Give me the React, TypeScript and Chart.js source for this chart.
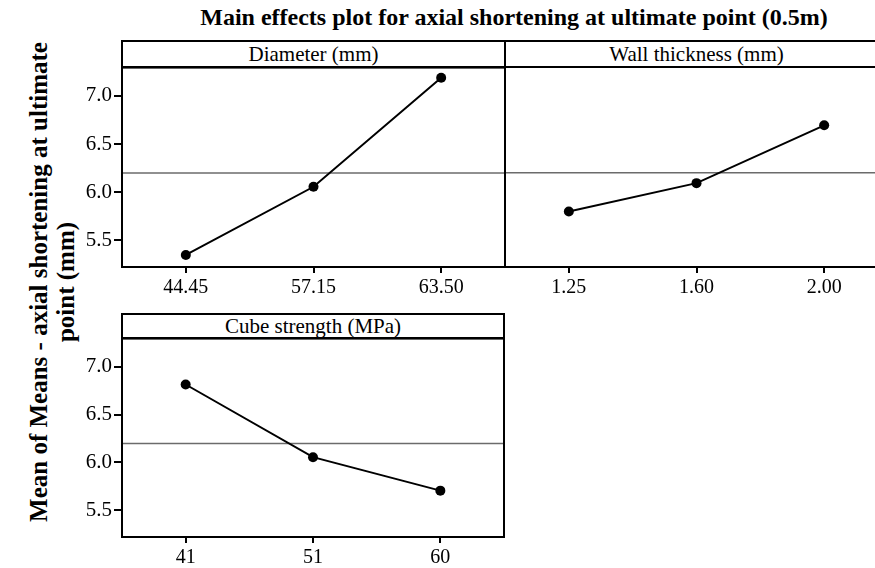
import React, { useEffect, useRef } from "react";
import { Chart, registerables } from "chart.js";

Chart.register(...registerables);

const TITLE = "Main effects plot for axial shortening at ultimate point (0.5m)";
const Y_LABEL_LINES = ["Mean of Means - axial shortening at ultimate", "point (mm)"];

const diameterHeader = "Diameter (mm)";
const diameterLabels = ["44.45", "57.15", "63.50"];
const diameterMeans = [5.345, 6.055, 7.19];

const wallHeader = "Wall thickness (mm)";
const wallLabels = ["1.25", "1.60", "2.00"];
const wallMeans = [5.795, 6.09, 6.69];

const cubeHeader = "Cube strength (MPa)";
const cubeLabels = ["41", "51", "60"];
const cubeMeans = [6.815, 6.055, 5.705];

const yTickValues = [5.5, 6.0, 6.5, 7.0];
const grandMean = 6.197;
const yMin = 5.22;
const yMax = 7.295;

const SERIF = '"Liberation Serif", "Times New Roman", serif';

const framePlugin = {
  id: "frame",
  beforeDatasetsDraw(chart: any) {
    const { ctx, chartArea: a, scales } = chart;
    const y = scales.y.getPixelForValue(grandMean);
    ctx.save();
    ctx.strokeStyle = "#6b6b6b";
    ctx.lineWidth = 1.5;
    ctx.beginPath();
    ctx.moveTo(a.left, y);
    ctx.lineTo(a.right, y);
    ctx.stroke();
    ctx.strokeStyle = "#000";
    ctx.lineWidth = 2;
    ctx.strokeRect(a.left, a.top, a.right - a.left, a.bottom - a.top);
    ctx.restore();
  },
};

type PanelProps = {
  labels: string[];
  values: number[];
  showY: boolean;
  left: number;
  top: number;
  width: number;
  height: number;
};

const PAD_TOP = 14;

function Panel({ labels, values, showY, left, top, width, height }: PanelProps) {
  const ref = useRef<HTMLCanvasElement | null>(null);
  useEffect(() => {
    if (!ref.current) return;
    const chart = new Chart(ref.current, {
      type: "line",
      data: {
        labels,
        datasets: [
          {
            data: values,
            borderColor: "#000",
            backgroundColor: "#000",
            borderWidth: 2,
            pointRadius: 5,
            pointBackgroundColor: "#000",
            pointBorderWidth: 0,
            tension: 0,
          },
        ],
      },
      options: {
        animation: false,
        responsive: false,
        events: [],
        layout: { padding: { left: showY ? 0 : 8, right: 8, top: PAD_TOP, bottom: 0 } },
        plugins: {
          legend: { display: false },
          tooltip: { enabled: false },
          title: { display: false },
        },
        scales: {
          x: {
            type: "category",
            offset: true,
            grid: {
              display: true,
              offset: false,
              drawOnChartArea: false,
              drawTicks: true,
              tickLength: 6,
              color: "#000",
              lineWidth: 2,
            },
            border: { display: false },
            ticks: {
              color: "#000",
              font: { family: SERIF, size: 20 },
              padding: 3,
              maxRotation: 0,
              autoSkip: false,
            },
            afterFit: (s: any) => {
              s.height = 40;
            },
          },
          y: {
            type: "linear",
            display: showY,
            min: yMin,
            max: yMax,
            grid: {
              display: true,
              drawOnChartArea: false,
              drawTicks: true,
              tickLength: 8,
              color: "#000",
              lineWidth: 2,
            },
            border: { display: false },
            ticks: {
              color: "#000",
              font: { family: SERIF, size: 21 },
              padding: 2,
              callback: (v: any) => Number(v).toFixed(1),
            },
            afterBuildTicks: (s: any) => {
              s.ticks = yTickValues.map((v) => ({ value: v }));
            },
            afterFit: (s: any) => {
              s.width = showY ? 62 : 0;
            },
          },
        },
      } as any,
      plugins: [framePlugin],
    });
    return () => chart.destroy();
  }, []);
  return (
    <canvas
      ref={ref}
      width={width}
      height={height}
      style={{ position: "absolute", left, top, width, height }}
    />
  );
}

function Header({ text, left, top, width, height }: { text: string; left: number; top: number; width: number; height: number }) {
  return (
    <div
      style={{
        position: "absolute",
        left,
        top,
        width,
        height,
        boxSizing: "border-box",
        border: "2px solid #000",
        background: "#fff",
        fontFamily: SERIF,
        fontSize: 21,
        lineHeight: `${height - 4}px`,
        textAlign: "center",
        color: "#000",
        whiteSpace: "nowrap",
      }}
    >
      {text}
    </div>
  );
}

export default function App() {
  return (
    <div
      style={{
        position: "absolute",
        left: 0,
        top: 0,
        width: 875,
        height: 568,
        overflow: "hidden",
        background: "#fff",
      }}
    >
      <div
        style={{
          position: "absolute",
          left: 514,
          top: 3,
          transform: "translateX(-50%)",
          whiteSpace: "nowrap",
          fontFamily: SERIF,
          fontWeight: "bold",
          fontSize: 24,
          lineHeight: "28px",
          color: "#000",
        }}
      >
        {TITLE}
      </div>
      <div
        style={{
          position: "absolute",
          left: 52 - 300,
          top: 282 - 27,
          width: 600,
          height: 54,
          transform: "rotate(-90deg)",
          textAlign: "center",
          fontFamily: SERIF,
          fontWeight: "bold",
          fontSize: 25,
          lineHeight: "27px",
          color: "#000",
          whiteSpace: "nowrap",
        }}
      >
        <div>{Y_LABEL_LINES[0]}</div>
        <div>{Y_LABEL_LINES[1]}</div>
      </div>

      <Panel labels={diameterLabels} values={diameterMeans} showY={true} left={60} top={67 - PAD_TOP} width={453} height={200 + PAD_TOP + 40} />
      <Panel labels={wallLabels} values={wallMeans} showY={false} left={497} top={67 - PAD_TOP} width={399} height={200 + PAD_TOP + 40} />
      <Panel labels={cubeLabels} values={cubeMeans} showY={true} left={60} top={338 - PAD_TOP} width={452} height={199 + PAD_TOP + 40} />

      <Header text={diameterHeader} left={121} top={40} width={385} height={28} />
      <Header text={wallHeader} left={504} top={40} width={385} height={28} />
      <Header text={cubeHeader} left={121} top={313} width={384} height={26} />
    </div>
  );
}
